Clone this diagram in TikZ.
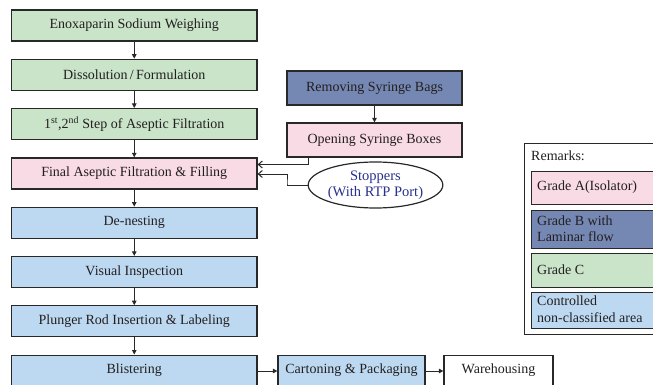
\documentclass[tikz,border=0pt]{standalone}
\usepackage{fontspec}
\setmainfont{Liberation Serif}
\usetikzlibrary{arrows.meta,shapes.geometric}
\definecolor{gC}{RGB}{201,228,201}
\definecolor{gA}{RGB}{248,219,229}
\definecolor{gD}{RGB}{189,217,241}
\definecolor{gB}{RGB}{117,135,179}
\definecolor{ink}{RGB}{35,31,32}
\definecolor{edge}{RGB}{40,40,40}
\definecolor{stopc}{RGB}{40,50,140}
\begin{document}
\begin{tikzpicture}[x=1pt,y=-1pt,
  font=\fontsize{14}{16}\selectfont, text=ink,
  proc/.style={draw=edge, line width=1.2pt, rectangle, inner sep=0pt, minimum height=31pt},
  mainbox/.style={proc, minimum width=245.5pt},
  flow/.style={draw=edge, line width=1pt, -{Triangle[length=4.5pt,width=4.5pt]}},
  feed/.style={draw=edge, line width=1pt, -{Straight Barb[length=4pt,width=7pt]}},
  legbox/.style={draw=edge, line width=1.2pt, rectangle, inner sep=0pt, anchor=north west, minimum width=140pt}
]
\useasboundingbox (0,0) rectangle (653,385);
\clip (0,0) rectangle (653,385);
\fill[white] (0,0) rectangle (653,385);

\node[mainbox, fill=gC] (n1) at (134.25,25.5) {Enoxaparin Sodium Weighing};
\node[mainbox, fill=gC] (n2) at (134.25,74.8) {Dissolution\,/\,Formulation};
\node[mainbox, fill=gC] (n3) at (134.25,124.1) {1\textsuperscript{st},2\textsuperscript{nd} Step of Aseptic Filtration};
\node[mainbox, fill=gA] (n4) at (134.25,173.4) {Final Aseptic Filtration \& Filling};
\node[mainbox, fill=gD] (n5) at (134.25,222.7) {De-nesting};
\node[mainbox, fill=gD] (n6) at (134.25,272) {Visual Inspection};
\node[mainbox, fill=gD] (n7) at (134.25,321.3) {Plunger Rod Insertion \& Labeling};
\node[mainbox, fill=gD] (n8) at (134.25,370.6) {Blistering};

\node[proc, fill=gB, minimum width=175pt, minimum height=34pt] (rb) at (374.5,88) {Removing Syringe Bags};
\node[proc, fill=gA, minimum width=175pt, minimum height=34pt] (ob) at (374.5,140) {Opening Syringe Boxes};
\node[draw=edge, line width=1.2pt, ellipse, fill=white, minimum width=127pt, minimum height=46pt, inner sep=0pt, align=center, text=stopc, font=\fontsize{14.5}{15.5}\selectfont] (st) at (375.5,185) {Stoppers\\(With RTP Port)};

\node[proc, fill=gD, minimum width=147pt] (cp) at (351.5,370.6) {Cartoning \& Packaging};
\node[proc, fill=white, minimum width=109pt] (wh) at (498.5,370.6) {Warehousing};

% legend
\node[draw=edge, line width=1.2pt, rectangle, anchor=north west, minimum width=150pt, minimum height=191pt, inner sep=0pt] (leg) at (524,143) {};
\node[anchor=west, inner sep=0pt] (rem) at (531,156) {Remarks:};
\node[legbox, fill=gA, minimum height=33pt] (la) at (531,171) {};
\node[anchor=west, inner sep=0pt] (lat) at (537,187.5) {Grade A(Isolator)};
\node[legbox, fill=gB, minimum height=38pt] (lb) at (531,210) {};
\node[anchor=north west, inner sep=0pt, align=left, font=\fontsize{14}{16}\selectfont] (lbt) at (537,215.5) {Grade B with\\Laminar flow};
\node[legbox, fill=gC, minimum height=34pt] (lc) at (531,253) {};
\node[anchor=west, inner sep=0pt] (lct) at (537,270) {Grade C};
\node[legbox, fill=gD, minimum height=36pt] (ld) at (531,292) {};
\node[anchor=north west, inner sep=0pt, align=left, font=\fontsize{14}{17}\selectfont] (ldt) at (537,296) {Controlled\\non-classified area};

% main flow
\draw[flow] (n1) -- (n2);
\draw[flow] (n2) -- (n3);
\draw[flow] (n3) -- (n4);
\draw[flow] (n4) -- (n5);
\draw[flow] (n5) -- (n6);
\draw[flow] (n6) -- (n7);
\draw[flow] (n7) -- (n8);
\draw[flow] (rb) -- (ob);
\draw[flow] (n8.east |- 0,371) -- (cp.west |- 0,371);
\draw[flow] (cp.east |- 0,371) -- (wh.west |- 0,371);

% feeds into filling
\coordinate (k1) at (308,164.5);
\coordinate (k2) at (287,174);
\draw[feed] (ob.south -| k1) |- (n4.east |- k1);
\draw[feed] (st.west) -| (287,184) -- (k2) -- (n4.east |- k2);
\end{tikzpicture}
\end{document}
